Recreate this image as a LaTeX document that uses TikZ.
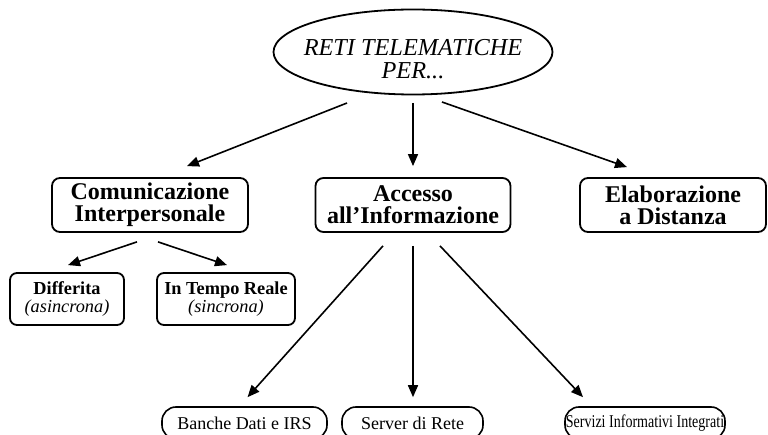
\documentclass[tikz,border=0pt]{standalone}
\usepackage{fontspec}
\setmainfont{Liberation Serif}
\usetikzlibrary{shapes.geometric,arrows.meta,calc}

\tikzset{
  topic/.style={draw, line width=1.8pt, rounded corners=8pt, inner sep=0pt,
    align=center, minimum height=54pt, font=\bfseries\fontsize{24}{22}\selectfont},
  subtopic/.style={draw, line width=1.8pt, rounded corners=7pt, inner sep=0pt,
    align=center, minimum height=52pt, font=\fontsize{18.3}{18}\selectfont},
  leaf/.style={draw, line width=1.6pt, rounded corners=14pt, inner sep=0pt,
    minimum height=32pt, font=\fontsize{18}{20}\selectfont},
  link/.style={line width=1.6pt, -{Triangle[length=12pt,width=10pt]}},
}

\begin{document}
\begin{tikzpicture}[x=1pt,y=-1pt]
  \useasboundingbox (0,0) rectangle (768,435);
  \clip (0,0) rectangle (768,435);

  % root ellipse and its caption
  \node[ellipse, draw, line width=1.8pt, minimum width=279pt, minimum height=85pt,
        inner sep=0pt] (top) at (413,52) {};
  \node[align=center, font=\itshape\fontsize{24.3}{23}\selectfont] (toptext) at (413,59)
        {RETI TELEMATICHE\\PER...};

  % first level
  \node[topic, minimum width=196pt] (com) at (150,205) {Comunicazione\\Interpersonale};
  \node[topic, minimum width=195pt] (acc) at (413,205) {Accesso\\all’Informazione};
  \node[topic, minimum width=186pt] (ela) at (673,205) {Elaborazione\\a Distanza};

  % second level under Comunicazione
  \node[subtopic, minimum width=114pt] (dif) at (67,299)
        {\textbf{Differita}\\\textit{(asincrona)}};
  \node[subtopic, minimum width=138pt] (itr) at (226,299)
        {\textbf{In Tempo Reale}\\\textit{(sincrona)}};

  % leaves under Accesso
  \node[leaf, minimum width=165pt] (ban) at (244.5,423) {Banche Dati e IRS};
  \node[leaf, minimum width=141pt] (ser) at (412.5,423) {Server di Rete};
  \node[leaf, minimum width=160pt] (svz) at (645,423)
        {\scalebox{0.78}[1]{Servizi Informativi Integrati}};

  % connectors
  \draw[link] ($(top.center)+(-66,51)$) -- ($(com.north)+(37,-11)$);
  \draw[link] ($(top.center)+(0,51)$)   -- ($(acc.north)+(0,-11)$);
  \draw[link] ($(top.center)+(29,50)$)  -- ($(ela.north)+(-46,-10)$);

  \draw[link] ($(com.south)+(-13,9)$) -- ($(dif.north)+(1,-7)$);
  \draw[link] ($(com.south)+(8,9)$)   -- ($(itr.north)+(1,-7)$);

  \draw[link] ($(acc.south)+(-30,13)$) -- ($(ban.north)+(3,-9)$);
  \draw[link] ($(acc.south)+(0,13)$)   -- ($(ser.north)+(0.5,-9)$);
  \draw[link] ($(acc.south)+(27,13)$)  -- ($(svz.north)+(-62,-9)$);
\end{tikzpicture}
\end{document}
